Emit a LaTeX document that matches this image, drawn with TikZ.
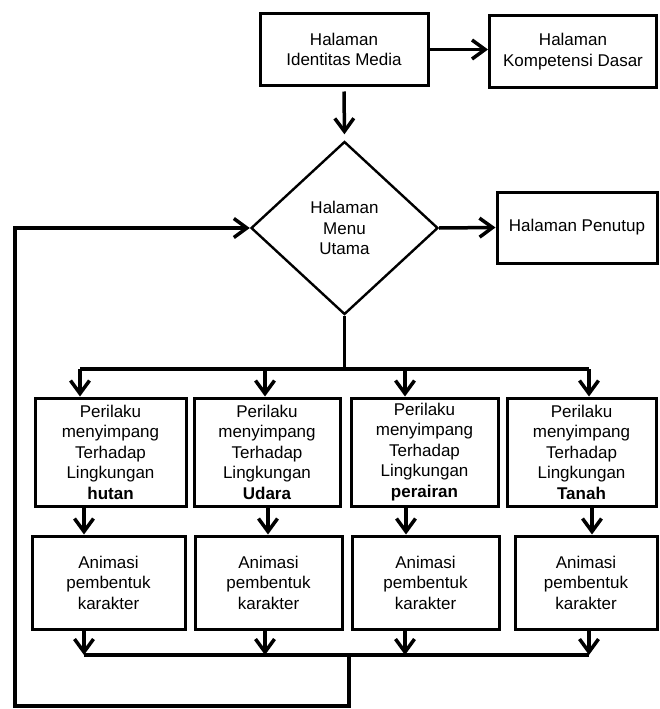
\documentclass[tikz,border=0pt]{standalone}
\usepackage{fontspec}
\setmainfont{Liberation Sans}
\usetikzlibrary{shapes.geometric,arrows.meta}

\begin{document}
\begin{tikzpicture}[x=1pt, y=-1pt,
		box/.style = {draw, line width=3pt, inner sep=0pt, align=center, font=\fontsize{17}{20.5}\selectfont},
		dia/.style = {draw, diamond, line width=2.4pt, inner sep=0pt, minimum width=187pt, minimum height=173pt, align=center, font=\fontsize{17}{20.5}\selectfont},
		arr/.style = {line width=3.5pt, -{Straight Barb[length=13pt, width=19pt]}},
		line/.style = {line width=3.5pt}]
				\useasboundingbox (0,0) rectangle (659,709);

				\node[box, minimum width=168pt, minimum height=71pt] (ident) at (344,49.5) {Halaman\\Identitas Media};
				\node[box, minimum width=167pt, minimum height=71pt] (komp) at (573,51.5) {Halaman\\Kompetensi Dasar};
				\node[dia] (menu) at (344.5,228) {Halaman\\Menu\\Utama};
				\node[box, minimum width=160pt, minimum height=71pt] (tutup) at (577,227.5) {Halaman Penutup};

				\node[box, minimum width=151pt, minimum height=108pt] (p1) at (110.5,452) {Perilaku\\menyimpang\\Terhadap\\Lingkungan\\\textbf{hutan}};
				\node[box, minimum width=146pt, minimum height=108pt] (p2) at (267,452) {Perilaku\\menyimpang\\Terhadap\\Lingkungan\\\textbf{Udara}};
				\node[box, minimum width=147pt, minimum height=108pt] (p3) at (424.5,452) {Perilaku\\menyimpang\\Terhadap\\Lingkungan\\\textbf{perairan}};
				\node[box, minimum width=149pt, minimum height=108pt] (p4) at (581.5,452) {Perilaku\\menyimpang\\Terhadap\\Lingkungan\\\textbf{Tanah}};

				\node[box, minimum width=153pt, minimum height=93pt] (a1) at (108.5,582.5) {Animasi\\pembentuk\\karakter};
				\node[box, minimum width=147pt, minimum height=93pt] (a2) at (268.5,582.5) {Animasi\\pembentuk\\karakter};
				\node[box, minimum width=147pt, minimum height=93pt] (a3) at (425.5,582.5) {Animasi\\pembentuk\\karakter};
				\node[box, minimum width=142pt, minimum height=93pt] (a4) at (586,582.5) {Animasi\\pembentuk\\karakter};

				\coordinate (tm) at (344.5,369);
				\coordinate (t1) at (80,369);
				\coordinate (t2) at (265,369);
				\coordinate (t3) at (405,369);
				\coordinate (t4) at (589,369);
				\coordinate (c1) at (84,0);
				\coordinate (c2) at (268,0);
				\coordinate (c3) at (406,0);
				\coordinate (c4) at (592,0);
				\coordinate (b1) at (84,655);
				\coordinate (b2) at (265,655);
				\coordinate (b3) at (405,655);
				\coordinate (b4) at (589,655);
				\coordinate (bm) at (349,655);
				\coordinate (lp) at (15,706);

				\draw[arr] (ident.east) -- (ident.east -| komp.west);
				\draw[arr, shorten <=5pt, shorten >=6pt] (ident.south) -- (menu.north);
				\draw[arr] (menu.east) -- (tutup.west);

				\draw[line] (menu.south) -- (tm);
				\draw[line] (t1) -- (t4);
				\draw[arr] (t1) -- (p1.north -| t1);
				\draw[arr] (t2) -- (p2.north -| t2);
				\draw[arr] (t3) -- (p3.north -| t3);
				\draw[arr] (t4) -- (p4.north -| t4);

				\draw[arr] (p1.south -| c1) -- (a1.north -| c1);
				\draw[arr] (p2.south -| c2) -- (a2.north -| c2);
				\draw[arr] (p3.south -| c3) -- (a3.north -| c3);
				\draw[arr] (p4.south -| c4) -- (a4.north -| c4);

				\draw[arr] (a1.south -| b1) -- (b1);
				\draw[arr] (a2.south -| b2) -- (b2);
				\draw[arr] (a3.south -| b3) -- (b3);
				\draw[arr] (a4.south -| b4) -- (b4);
				\draw[line] (b1) -- (b4);

				\draw[arr] (bm) |- (lp) |- (menu.west);
			\end{tikzpicture}
\end{document}
